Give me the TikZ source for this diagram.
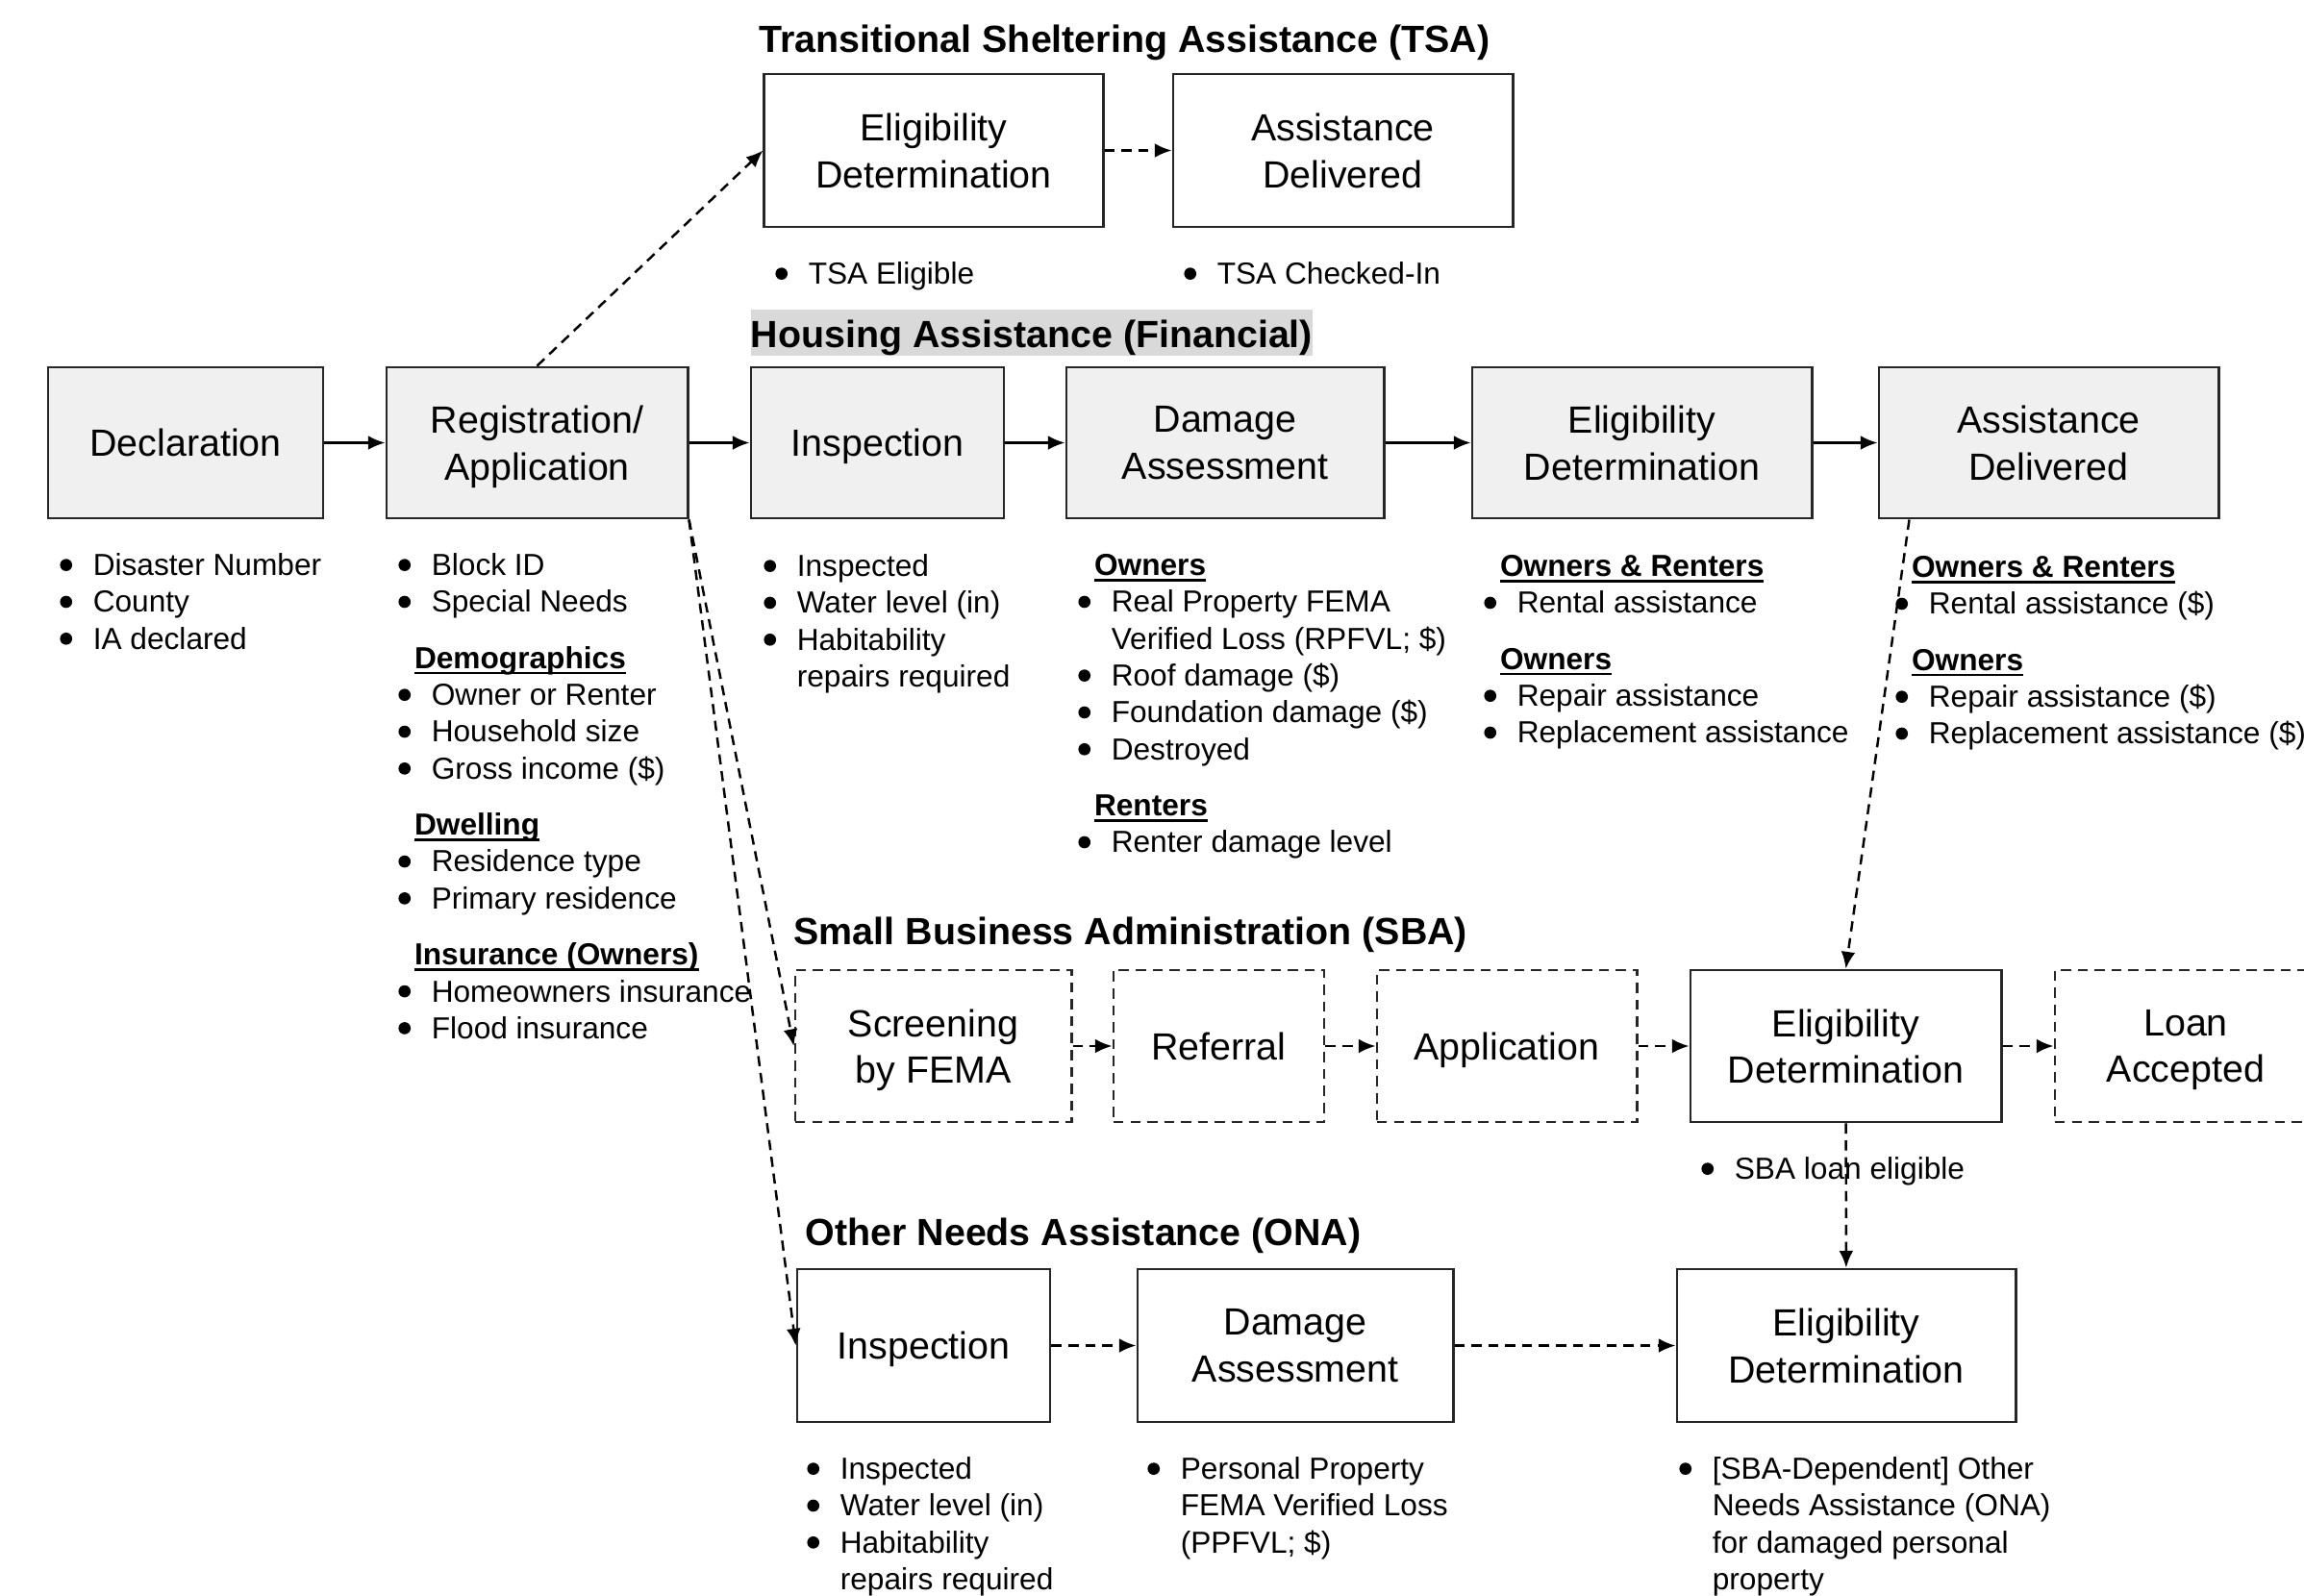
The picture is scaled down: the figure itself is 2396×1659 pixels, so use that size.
\documentclass[tikz,border=0pt]{standalone}
\usepackage{fontspec}
\setmainfont{Liberation Sans}
\usetikzlibrary{arrows.meta}

\newcommand{\lblfont}{\fontsize{11.2pt}{13.8pt}\selectfont}
\newcommand{\hdrfont}{\fontsize{11.2pt}{13.3pt}\selectfont\bfseries}
\newcommand{\notefont}{\fontsize{9pt}{10.9pt}\selectfont}
\newcommand{\itm}{\makebox[3.15pt][c]{\tikz[baseline=-3.1pt]\fill (0,0) circle (1.8pt);}}
\newsavebox{\ulbox}
\newcommand{\ulhead}[1]{\sbox{\ulbox}{\bfseries #1}\rlap{\rule[-1.7pt]{\wd\ulbox}{0.7pt}}\usebox{\ulbox}}
\newcommand{\grp}[1]{\multicolumn{2}{@{\hspace{4.5pt}}l@{}}{\ulhead{#1}}}
\newenvironment{notelist}{\begin{tabular}{@{}l@{\hspace{6.4pt}}l@{}}}{\end{tabular}}

\begin{document}
\begin{tikzpicture}[
        x=0.01cm, y=-0.01cm,
        box/.style={draw=black!85, line width=0.8pt, align=center, inner sep=0pt, text depth=0pt, font=\lblfont},
        oneline/.style={text height=8pt},
        habox/.style={box, fill=black!6},
        sbabox/.style={box, dash pattern=on 3pt off 2pt},
        head/.style={anchor=base west, inner sep=0pt, font=\hdrfont},
        notes/.style={anchor=north west, inner sep=0pt, font=\notefont},
        flow/.style={-{Latex[length=5pt,width=4.2pt]}, line width=0.7pt},
        maybe/.style={flow, dash pattern=on 3pt off 2pt}
    ]
    \useasboundingbox (0,0) rectangle (2396,1659);

    \node[head] (tsatitle) at (789,54) {Transitional Sheltering Assistance (TSA)};
    \node[box, minimum width=3.52cm, minimum height=1.59cm] (tsaelig) at (971,156.5) {Eligibility\\Determination};
    \node[box, minimum width=3.53cm, minimum height=1.59cm] (tsadel) at (1396.5,156.5) {Assistance\\Delivered};
    \node[notes] (tsaelig-info) at (806.5,268) {\begin{notelist}\itm & TSA Eligible\end{notelist}};
    \node[notes] (tsadel-info) at (1231.5,268) {\begin{notelist}\itm & TSA Checked-In\end{notelist}};

    \node[head, fill=black!15, text height=11.1pt, text depth=2.6pt] (hatitle) at (780,361) {Housing Assistance (Financial)};
    \node[habox, oneline, minimum width=2.86cm, minimum height=1.57cm] (decl) at (193,460.5) {Declaration};
    \node[habox, minimum width=3.13cm, minimum height=1.57cm] (reg) at (558.5,460.5) {Registration/\\Application};
    \node[habox, oneline, minimum width=2.63cm, minimum height=1.57cm] (hains) at (912.5,460.5) {Inspection};
    \node[habox, minimum width=3.30cm, minimum height=1.57cm] (hadmg) at (1274,460.5) {Damage\\Assessment};
    \node[habox, minimum width=3.53cm, minimum height=1.57cm] (haelig) at (1707.5,460.5) {Eligibility\\Determination};
    \node[habox, minimum width=3.53cm, minimum height=1.57cm] (hadel) at (2130.5,460.5) {Assistance\\Delivered};

    \node[notes] (decl-info) at (62.5,571) {\begin{notelist}
        \itm & Disaster Number\\
        \itm & County\\
        \itm & IA declared
    \end{notelist}};
    \node[notes] (reg-info) at (414.5,571) {\begin{notelist}
        \itm & Block ID\\
        \itm & Special Needs\\[5.7pt]
        \grp{Demographics}\\
        \itm & Owner or Renter\\
        \itm & Household size\\
        \itm & Gross income (\$)\\[5.7pt]
        \grp{Dwelling}\\
        \itm & Residence type\\
        \itm & Primary residence\\[5.7pt]
        \grp{Insurance (Owners)}\\
        \itm & Homeowners insurance\\
        \itm & Flood insurance
    \end{notelist}};
    \node[notes] (hains-info) at (794.5,572) {\begin{notelist}
        \itm & Inspected\\
        \itm & Water level (in)\\
        \itm & Habitability\\
        & repairs required
    \end{notelist}};
    \node[notes] (hadmg-info) at (1121.5,571) {\begin{notelist}
        \grp{Owners}\\
        \itm & Real Property FEMA\\
        & Verified Loss (RPFVL; \$)\\
        \itm & Roof damage (\$)\\
        \itm & Foundation damage (\$)\\
        \itm & Destroyed\\[5.7pt]
        \grp{Renters}\\
        \itm & Renter damage level
    \end{notelist}};
    \node[notes] (haelig-info) at (1543.5,572) {\begin{notelist}
        \grp{Owners \& Renters}\\
        \itm & Rental assistance\\[5.7pt]
        \grp{Owners}\\
        \itm & Repair assistance\\
        \itm & Replacement assistance
    \end{notelist}};
    \node[notes] (hadel-info) at (1971.5,573) {\begin{notelist}
        \grp{Owners \& Renters}\\
        \itm & Rental assistance (\$)\\[5.7pt]
        \grp{Owners}\\
        \itm & Repair assistance (\$)\\
        \itm & Replacement assistance (\$)
    \end{notelist}};

    \node[head] (sbatitle) at (825,982) {Small Business Administration (SBA)};
    \node[sbabox, minimum width=2.87cm, minimum height=1.58cm] (sbascr) at (970.5,1088) {Screening\\by FEMA};
    \node[sbabox, oneline, minimum width=2.19cm, minimum height=1.58cm] (sbaref) at (1267.5,1088) {Referral};
    \node[sbabox, oneline, minimum width=2.70cm, minimum height=1.58cm] (sbaapp) at (1567,1088) {Application};
    \node[box, minimum width=3.23cm, minimum height=1.58cm] (sbaelig) at (1919.5,1088) {Eligibility\\Determination};
    \node[sbabox, minimum width=2.72cm, minimum height=1.58cm] (sbaloan) at (2273,1088) {Loan\\Accepted};
    \node[notes] (sbaelig-info) at (1769.5,1199) {\begin{notelist}\itm & SBA loan eligible\end{notelist}};

    \node[head] (onatitle) at (837,1295) {Other Needs Assistance (ONA)};
    \node[box, oneline, minimum width=2.63cm, minimum height=1.59cm] (onains) at (960.5,1399.5) {Inspection};
    \node[box, minimum width=3.28cm, minimum height=1.59cm] (onadmg) at (1347,1399.5) {Damage\\Assessment};
    \node[box, minimum width=3.52cm, minimum height=1.59cm] (onaelig) at (1920,1399.5) {Eligibility\\Determination};
    \node[notes] (onains-info) at (839.5,1511) {\begin{notelist}
        \itm & Inspected\\
        \itm & Water level (in)\\
        \itm & Habitability\\
        & repairs required
    \end{notelist}};
    \node[notes] (onadmg-info) at (1193.5,1511) {\begin{notelist}
        \itm & Personal Property\\
        & FEMA Verified Loss\\
        & (PPFVL; \$)
    \end{notelist}};
    \node[notes] (onaelig-info) at (1746.5,1511) {\begin{notelist}
        \itm & [SBA-Dependent] Other\\
        & Needs Assistance (ONA)\\
        & for damaged personal\\
        & property
    \end{notelist}};

    \draw[flow] (decl) -- (reg);
    \draw[flow] (reg) -- (hains);
    \draw[flow] (hains) -- (hadmg);
    \draw[flow] (hadmg) -- (haelig);
    \draw[flow] (haelig) -- (hadel);
    \draw[maybe] (reg.north) -- (tsaelig.west);
    \draw[maybe] (tsaelig) -- (tsadel);
    \draw[maybe] (reg.south east) -- (sbascr.west);
    \draw[maybe] (reg.south east) -- (onains.west);
    \draw[maybe] (sbascr) -- (sbaref);
    \draw[maybe] (sbaref) -- (sbaapp);
    \draw[maybe] (sbaapp) -- (sbaelig);
    \draw[maybe] (sbaelig) -- (sbaloan);
    \draw[maybe] ([xshift=0.33cm]hadel.south west) -- (sbaelig.north);
    \draw[maybe] (sbaelig) -- (onaelig);
    \draw[maybe] (onains) -- (onadmg);
    \draw[maybe] (onadmg) -- (onaelig);
\end{tikzpicture}
\end{document}
